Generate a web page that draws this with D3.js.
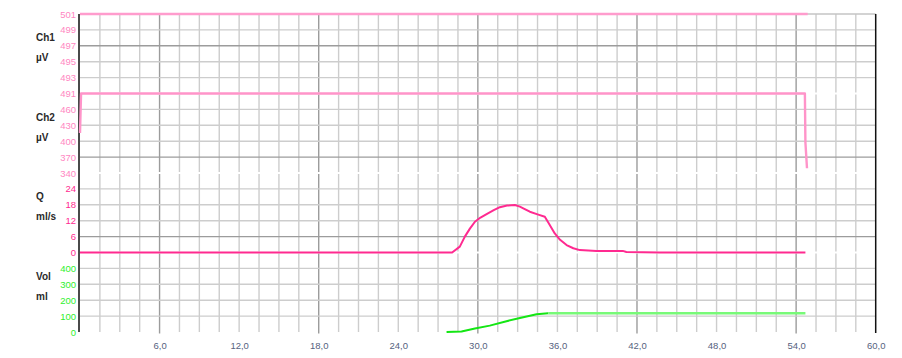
<!DOCTYPE html>
<html>
<head>
<meta charset="utf-8">
<script src="https://cdn.jsdelivr.net/npm/d3@7"></script>
<style>
  html, body { margin: 0; padding: 0; background: #fff; }
  svg { display: block; font-family: "Liberation Sans", Arial, sans-serif; }
</style>
</head>
<body>
<div id="chart"></div>
<script>
// time axis (s)
const xTicks = [6, 12, 18, 24, 30, 36, 42, 48, 54, 60]

// channel data [t, value]
const ch1Data = [[0, 501], [54.87, 501]]
const ch2Data = [[0, 416], [0.08, 491], [54.66, 491], [54.7, 398], [54.82, 349]]
const qData = [
  [0, 0], [28.06, 0], [28.64, 2.2], [29.02, 6.0], [29.4, 9.0], [29.78, 11.6],
  [30.2, 13.2], [30.66, 14.5], [31.2, 16.0], [31.66, 17.1], [32.2, 17.7],
  [32.79, 17.9], [33.17, 17.3], [33.5, 16.5], [33.92, 15.4], [34.5, 14.4],
  [35.05, 13.5], [35.4, 10.6], [35.8, 7.2], [36.2, 4.8], [36.69, 2.8],
  [37.2, 1.6], [37.69, 0.9], [38.95, 0.6], [40.93, 0.6], [41.2, 0.2],
  [43.7, 0], [54.7, 0]
]
const volRise = [
  [27.64, 0], [28.77, 3], [29.78, 22], [30.9, 40], [32.16, 68],
  [33.17, 88], [34.43, 112], [35.3, 118]
]
const volFlat = [[35.3, 118], [54.7, 118]]

// y tick labels per channel
const ch1TickLabels = ["491", "493", "495", "497", "499", "501"]
const ch2TickLabels = ["340", "370", "400", "430", "460", ""]
const qTickLabels = ["0", "6", "12", "18", "24", ""]
const volTickLabels = ["0", "100", "200", "300", "400", ""]

const width = 902, height = 358
const margin = { top: 14, right: 26.3, bottom: 26, left: 80 }
const plotH = height - margin.top - margin.bottom
const panelH = plotH / 4

const x = d3.scaleLinear().domain([0, 60]).range([margin.left, width - margin.right])

const panels = [
  { name: "Ch1", unit: "µV", domain: [491, 501], labels: ch1TickLabels, color: "#ff86c2", dark: [3] },
  { name: "Ch2", unit: "µV", domain: [340, 491], labels: ch2TickLabels, color: "#ff86c2", dark: [1] },
  { name: "Q", unit: "ml/s", domain: [0, 30], labels: qTickLabels, color: "#ff2a90", dark: [1] },
  { name: "Vol", unit: "ml", domain: [0, 500], labels: volTickLabels, color: "#2ef02e", dark: [] }
]
panels.forEach((p, i) => {
  p.top = margin.top + i * panelH
  p.bottom = p.top + panelH
  p.y = d3.scaleLinear().domain(p.domain).range([p.bottom, p.top])
  const [lo, hi] = p.domain
  p.ticks = d3.range(6).map(k => lo + k * (hi - lo) / 5)
})

const svg = d3.select("#chart").append("svg")
  .attr("width", width)
  .attr("height", height)

const grid = svg.append("g")

// vertical grid, broken at panel boundaries
const vLines = d3.range(1.5, 60, 1.5)
panels.forEach((p, i) => {
  grid.append("g").selectAll("line")
    .data(vLines)
    .join("line")
    .attr("x1", d => x(d)).attr("x2", d => x(d))
    .attr("y1", p.top + (i > 0 ? 1 : 0))
    .attr("y2", d => p.bottom - (i < 3 ? 1 : (d % 12 === 6 ? -1.5 : 0)))
    .attr("stroke", d => d % 12 === 6 ? "#9c9c9c" : "#cdcdcd")
    .attr("stroke-width", 1.4)
})

// horizontal grid inside each panel
panels.forEach(p => {
  grid.append("g").selectAll("line")
    .data(d3.range(1, 5))
    .join("line")
    .attr("x1", x(0)).attr("x2", x(60))
    .attr("y1", k => p.y(p.ticks[k])).attr("y2", k => p.y(p.ticks[k]))
    .attr("stroke", k => p.dark.includes(k) ? "#9c9c9c" : "#cdcdcd")
    .attr("stroke-width", 1.4)
})

// top border
grid.append("line")
  .attr("x1", x(0)).attr("x2", x(60))
  .attr("y1", margin.top).attr("y2", margin.top)
  .attr("stroke", "#c4c4c4").attr("stroke-width", 1.6)

// right border
grid.append("line")
  .attr("x1", x(60)).attr("x2", x(60))
  .attr("y1", margin.top).attr("y2", height - margin.bottom + 1)
  .attr("stroke", "#111").attr("stroke-width", 1.5)

// left axes + titles
panels.forEach(p => {
  const g = svg.append("g")
    .attr("transform", `translate(${margin.left - 2},0)`)
    .call(d3.axisLeft(p.y).tickValues(p.ticks).tickFormat((d, k) => p.labels[k]).tickSize(0).tickPadding(2))
  g.select(".domain").remove()
  g.selectAll("text")
    .attr("fill", p.color)
    .attr("font-size", 9.5)
    .attr("font-family", "Liberation Sans, Arial, sans-serif")

  svg.append("text")
    .attr("x", 36).attr("y", p.top + 27)
    .attr("font-size", 10).attr("font-weight", "bold")
    .attr("fill", "#2a2a2a")
    .text(p.name)
  svg.append("text")
    .attr("x", 36).attr("y", p.top + 47)
    .attr("font-size", 10).attr("font-weight", "bold")
    .attr("fill", "#2a2a2a")
    .text(p.unit)
})

// left axis line
svg.append("line")
  .attr("x1", margin.left - 1).attr("x2", margin.left - 1)
  .attr("y1", margin.top).attr("y2", height - margin.bottom)
  .attr("stroke", "#4a4a4a").attr("stroke-width", 2)

// bottom axis labels
const fmt = d3.formatLocale({ decimal: ",", thousands: ".", grouping: [3], currency: ["", ""] }).format(".1f")
const xAxis = svg.append("g")
  .attr("transform", `translate(0,${height - margin.bottom})`)
  .call(d3.axisBottom(x).tickValues(xTicks).tickFormat(fmt).tickSize(0).tickPadding(10))
xAxis.select(".domain").remove()
xAxis.selectAll("text")
  .attr("fill", "#56627e")
  .attr("font-size", 9.5)
  .attr("font-family", "Liberation Sans, Arial, sans-serif")

// series
function drawLine(data, p, color, w) {
  svg.append("path")
    .datum(data)
    .attr("fill", "none")
    .attr("stroke", color)
    .attr("stroke-width", w)
    .attr("stroke-linejoin", "round")
    .attr("d", d3.line().x(d => x(d[0])).y(d => p.y(d[1])))
}

drawLine(ch1Data, panels[0], "#ff9ccd", 2.6)
drawLine(ch2Data, panels[1], "#ff94c9", 2.4)
drawLine(qData, panels[2], "#ff2a90", 2)
drawLine(volRise, panels[3], "#14e614", 2)
drawLine(volFlat, panels[3], "#78fa78", 2.4)
</script>
</body>
</html>
